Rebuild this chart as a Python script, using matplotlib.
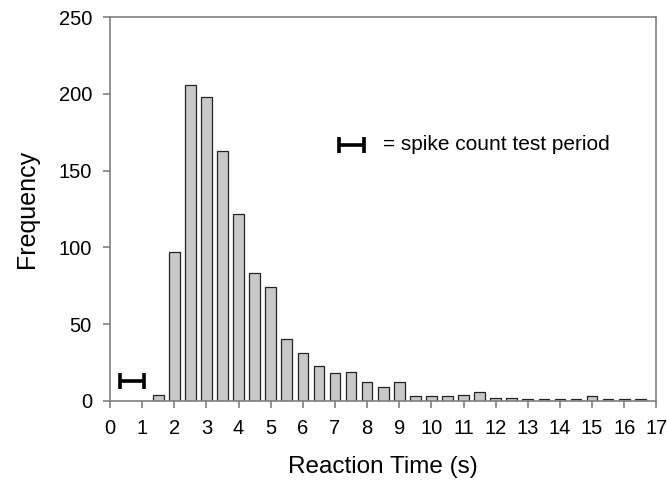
import numpy as np
import matplotlib.pyplot as plt

plt.rcParams['font.family'] = ['Liberation Sans', 'DejaVu Sans']

# bin centres (s) and counts
rt_bins = [1.5, 2.0, 2.5, 3.0, 3.5, 4.0, 4.5, 5.0, 5.5, 6.0, 6.5, 7.0, 7.5, 8.0,
           8.5, 9.0, 9.5, 10.0, 10.5, 11.0, 11.5, 12.0, 12.5, 13.0, 13.5, 14.0,
           14.5, 15.0, 15.5, 16.0, 16.5]
counts = [4, 97, 206, 198, 163, 122, 83, 74, 40, 31, 23, 18, 19, 12,
          9, 12, 3, 3, 3, 4, 6, 2, 2, 1, 1, 1,
          1, 3, 1, 1, 1]

# spike count test period (start, end) and its y position
test_period = [0.3, 1.05]
test_y = 12.6
legend_period = [7.13, 7.9]
legend_y = 167

fig = plt.figure(figsize=(6.67, 4.9), dpi=100)
ax = fig.add_axes([0.165, 0.182, 0.819, 0.783])

ax.bar(rt_bins, counts, width=0.333, color='#c8c8c8', edgecolor='#222222',
       linewidth=0.9, zorder=2)

# horizontal bars with end caps
for (a, b), yy in [(test_period, test_y), (legend_period, legend_y)]:
    ax.errorbar((a + b) / 2, yy, xerr=(b - a) / 2, fmt='none', ecolor='black',
                elinewidth=2.6, capsize=6, capthick=2.6, zorder=3)

ax.text(8.49, legend_y, '= spike count test period', fontsize=15,
        va='center', ha='left')

ax.set_xlim(0, 17)
ax.set_ylim(0, 250)
ax.set_xticks(range(0, 18))
ax.set_yticks(range(0, 251, 50))

for s in ax.spines.values():
    s.set_color('#808080')
    s.set_linewidth(1.2)
ax.tick_params(axis='both', color='#808080', width=1.2, length=5,
               labelsize=14.5, direction='out')
ax.tick_params(axis='x', pad=8)
ax.tick_params(axis='y', pad=8)

ax.set_xlabel('Reaction Time (s)', fontsize=17.5, labelpad=13)
ax.set_ylabel('Frequency', fontsize=18, labelpad=14)

fig.savefig('out.png', dpi=100)
